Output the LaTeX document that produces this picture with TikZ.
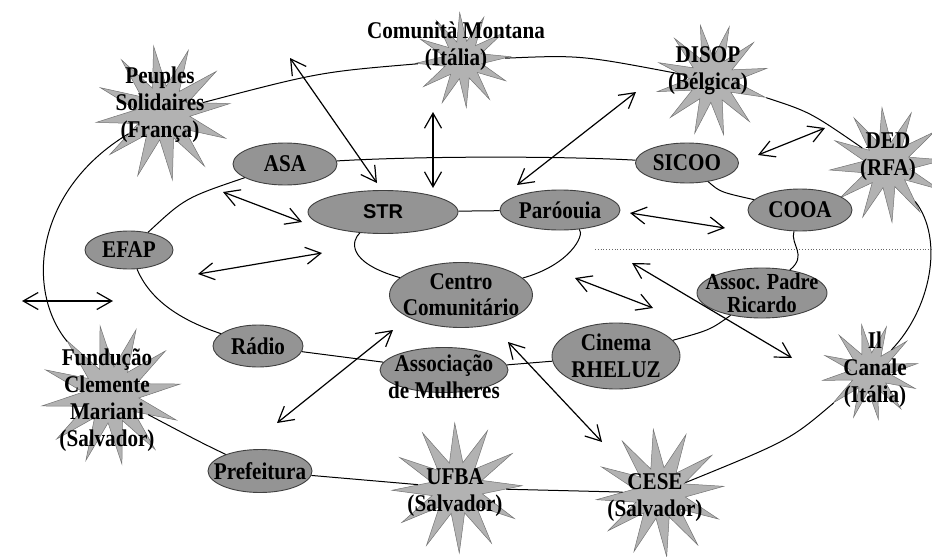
\documentclass[tikz,border=0pt]{standalone}
\usepackage{fontspec}
\setmainfont{Liberation Serif}
\newfontfamily\condserif{Liberation Serif}[FakeStretch=0.88]
\newfontfamily\strfont{Liberation Sans}
\usetikzlibrary{shapes.geometric,arrows.meta}
\newcommand{\diagfont}{\condserif\bfseries\fontsize{24}{27}\selectfont}
\begin{document}
\begin{tikzpicture}[x=1pt,y=-1pt,
  ell/.style={ellipse, draw=black!75, line width=0.9pt, fill=black!42, inner sep=0pt},
  burst/.style={star, star points=12, star point ratio=2.5, draw=black!55, line width=0.5pt, fill=black!30, inner sep=0pt},
  txt/.style={font=\diagfont, align=center, inner sep=0pt, text=black},
  ring/.style={line width=1pt, draw=black},
  biarrow/.style={line width=1.2pt, draw=black, {Straight Barb[length=15pt,width=17pt]}-{Straight Barb[length=15pt,width=17pt]}},
  sepline/.style={dotted, line width=0.8pt, draw=black!60}]
\useasboundingbox (0,0) rectangle (932,557);

% ---------- star-shaped partners ----------
\node[burst, minimum size=135pt, shape border rotate=8,
  label={[txt,xshift=-3pt,yshift=8pt]center:{Peuples\\Solidaires\\(França)}}] (peu) at (163,113) {};
\node[burst, minimum size=95pt, shape border rotate=4,
  label={[txt,xshift=-7pt,yshift=14pt]center:{Comunità Montana\\(Itália)}}] (com) at (463,60) {};
\node[burst, minimum size=112pt, shape border rotate=12,
  label={[txt,xshift=-4pt,yshift=9pt]center:{DISOP\\(Bélgica)}}] (dis) at (712,80) {};
\node[burst, minimum size=115pt, shape border rotate=5,
  label={[txt,xshift=1pt,yshift=8pt]center:{DED\\(RFA)}}] (ded) at (887,165) {};
\node[burst, minimum size=96pt, shape border rotate=10,
  label={[txt,xshift=5pt,yshift=2pt]center:{Il\\Canale\\(Itália)}}] (ilc) at (870,372) {};
\node[burst, minimum size=128pt, shape border rotate=6,
  label={[txt,xshift=-5pt,yshift=-5pt]center:{CESE\\(Salvador)}}] (ces) at (660,493) {};
\node[burst, minimum size=130pt, shape border rotate=2,
  label={[txt,xshift=-2pt,yshift=-5pt]center:{UFBA\\(Salvador)}}] (ufb) at (457,488) {};
\node[burst, minimum size=140pt, shape border rotate=9,
  label={[txt,xshift=-4pt,yshift=-5pt]center:{Fundução\\Clemente\\Mariani\\(Salvador)}}] (fun) at (111,395) {};

% ---------- local organisations ----------
\node[ell, minimum width=104pt, minimum height=42pt, label={[txt]center:ASA}] (asa) at (285,164) {};
\node[ell, minimum width=150pt, minimum height=43pt,
  label={[txt,font=\strfont\bfseries\fontsize{20}{24}\selectfont]center:STR}] (str) at (383,212) {};
\node[ell, minimum width=120pt, minimum height=40pt, label={[txt]center:Paróouia}] (par) at (560,210) {};
\node[ell, minimum width=103pt, minimum height=40pt, label={[txt]center:SICOO}] (sic) at (687,163) {};
\node[ell, minimum width=104pt, minimum height=42pt, label={[txt]center:COOA}] (coo) at (800,210) {};
\node[ell, minimum width=88pt, minimum height=38pt, label={[txt]center:EFAP}] (efa) at (129,250) {};
\node[ell, minimum width=143pt, minimum height=65pt, label={[txt,font=\condserif\bfseries\fontsize{24}{26}\selectfont]center:{Centro\\Comunitário}}] (cen) at (461,295) {};
\node[ell, minimum width=130pt, minimum height=50pt,
  label={[txt,font=\condserif\bfseries\fontsize{23}{23}\selectfont]center:{Assoc. Padre\\Ricardo}}] (pad) at (762,293) {};
\node[ell, minimum width=90pt, minimum height=42pt, label={[txt]center:Rádio}] (rad) at (258,346) {};
\node[ell, minimum width=128pt, minimum height=45pt,
  label={[txt,yshift=-7pt]center:{Associação\\de Mulheres}}] (amu) at (444,370) {};
\node[ell, minimum width=128pt, minimum height=66pt, label={[txt]center:{Cinema\\RHELUZ}}] (cin) at (616,356) {};
\node[ell, minimum width=104pt, minimum height=43pt, label={[txt]center:Prefeitura}] (pre) at (260,471) {};

% ---------- outer ring ----------
\draw[ring] (peu) .. controls (320,72) .. (com);
\draw[ring] (com) .. controls (580,55) .. (dis);
\draw[ring] (dis) .. controls (810,112) .. (ded);
\draw[ring] (ded) .. controls (945,240) and (930,310) .. (ilc);
\draw[ring] (ilc) .. controls (790,440) .. (ces);
\draw[ring] (ces) -- (ufb);
\draw[ring] (ufb) -- (pre);
\draw[ring] (pre) .. controls (200,442) .. (fun);
\draw[ring] (fun) .. controls (25,290) and (35,190) .. (peu);

% ---------- middle ring ----------
\draw[ring] (asa) .. controls (420,156) and (560,156) .. (sic);
\draw[ring] (sic) .. controls (720,192) .. (coo);
\draw[ring] (coo) .. controls (790,245) and (808,255) .. (pad);
\draw[ring] (pad) .. controls (710,330) .. (cin);
\draw[ring] (cin) -- (amu);
\draw[ring] (amu) -- (rad);
\draw[ring] (rad) .. controls (180,320) and (150,300) .. (efa);
\draw[ring] (efa) .. controls (185,198) .. (asa);

% ---------- inner ring ----------
\draw[ring] (str) -- (par);
\draw[ring] (par) .. controls (585,235) and (570,265) .. (cen);
\draw[ring] (cen) .. controls (345,262) and (352,240) .. (str);

% ---------- dotted separator ----------
\coordinate (d1) at (595,249);
\coordinate (d2) at (932,249);
\draw[sepline] (d1) -- (d2);

% ---------- exchange arrows ----------
\coordinate (a1s) at (22,301);  \coordinate (a1e) at (113,301);
\coordinate (a2s) at (198,274); \coordinate (a2e) at (322,253);
\coordinate (a3s) at (223,192); \coordinate (a3e) at (302,222);
\coordinate (a4s) at (290,58);  \coordinate (a4e) at (377,183);
\coordinate (a5s) at (433,112); \coordinate (a5e) at (433,188);
\coordinate (a6s) at (636,92);  \coordinate (a6e) at (517,185);
\coordinate (a7s) at (758,155); \coordinate (a7e) at (825,128);
\coordinate (a8s) at (630,213); \coordinate (a8e) at (725,228);
\coordinate (a9s) at (575,278); \coordinate (a9e) at (653,308);
\coordinate (a10s) at (632,263); \coordinate (a10e) at (792,358);
\coordinate (a11s) at (508,342); \coordinate (a11e) at (602,442);
\coordinate (a12s) at (277,423); \coordinate (a12e) at (393,330);
\foreach \k in {1,...,12} { \draw[biarrow] (a\k s) -- (a\k e); }
\end{tikzpicture}
\end{document}
